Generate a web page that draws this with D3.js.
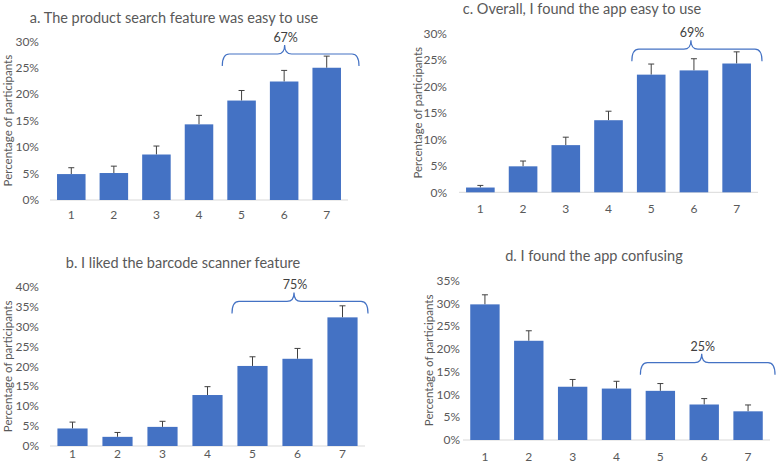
<!DOCTYPE html>
<html>
<head>
<meta charset="utf-8">
<script src="https://cdn.jsdelivr.net/npm/d3@7"></script>
<style>
  body { margin: 0; background: #fff; }
  svg { display: block; font-family: Lato, "Open Sans", sans-serif; }
  .tick-label { fill: #595959; font-size: 12px; }
  .title { fill: #595959; font-size: 14.5px; }
  .ylab { fill: #595959; font-size: 11.5px; }
  .brace-label { fill: #404040; font-size: 12.5px; }
</style>
</head>
<body>
<svg width="778" height="469"></svg>
<script>
// likert scale points
var categories = ['1', '2', '3', '4', '5', '6', '7'];

// percent of participants, and top of each error bar
var valuesA = [4.9, 5.1, 8.6, 14.3, 18.8, 22.4, 25.0];
var errTopA = [6.1, 6.4, 10.2, 16.0, 20.7, 24.5, 27.2];

var valuesB = [4.4, 2.3, 4.8, 12.8, 20.1, 21.9, 32.3];
var errTopB = [6.0, 3.4, 6.2, 14.9, 22.4, 24.5, 35.2];

var valuesC = [0.9, 4.9, 8.9, 13.6, 22.2, 23.0, 24.3];
var errTopC = [1.3, 5.9, 10.4, 15.3, 24.2, 25.2, 26.5];

var valuesD = [29.8, 21.8, 11.7, 11.3, 10.8, 7.8, 6.3];
var errTopD = [31.9, 24.0, 13.3, 12.9, 12.4, 9.1, 7.7];

var titles = [
  'a. The product search feature was easy to use',
  'b. I liked the barcode scanner feature',
  'c. Overall, I found the app easy to use',
  'd. I found the app confusing'
];
var braceLabels = ['67%', '75%', '69%', '25%'];
var yMaxes = [30, 40, 30, 35];

// layout of each panel (pixels)
var panels = [
  { vals: valuesA, errs: errTopA, x0: 50, x1: 348, y0: 200, yTop: 41.3,
    titleX: 174, titleY: 23, xLabY: 219, yLabX: 8, tickX: 39, braceAt: 27.6, braceR: 11 },
  { vals: valuesB, errs: errTopB, x0: 50, x1: 365, y0: 446, yTop: 286.7,
    titleX: 183, titleY: 268, xLabY: 458, yLabX: 8, tickX: 39, braceAt: 36.3, braceR: 3 },
  { vals: valuesC, errs: errTopC, x0: 459, x1: 758, y0: 192.3, yTop: 33.3,
    titleX: 582, titleY: 14, xLabY: 213, yLabX: 418, tickX: 447, braceAt: 27.0, braceR: 4 },
  { vals: valuesD, errs: errTopD, x0: 463, x1: 770, y0: 440, yTop: 280.7,
    titleX: 594, titleY: 261, xLabY: 461, yLabX: 429, tickX: 460, braceAt: 17.0, braceR: 5 }
];

var svg = d3.select('svg');

panels.forEach(function (p, i) {
  var g = svg.append('g');

  var x = d3.scaleBand()
    .domain(categories)
    .range([p.x0, p.x1])
    .paddingInner(0.33)
    .paddingOuter(0.165);

  var y = d3.scaleLinear()
    .domain([0, yMaxes[i]])
    .range([p.y0, p.yTop]);

  // y tick labels
  g.selectAll('.ytick')
    .data(d3.range(0, yMaxes[i] + 1, 5))
    .enter().append('text')
    .attr('class', 'tick-label')
    .attr('x', p.tickX)
    .attr('y', function (d) { return y(d); })
    .attr('dy', '0.35em')
    .attr('text-anchor', 'end')
    .text(function (d) { return d + '%'; });

  // baseline
  g.append('line')
    .attr('x1', p.x0).attr('x2', p.x1)
    .attr('y1', y(0)).attr('y2', y(0))
    .attr('stroke', '#d9d9d9')
    .attr('stroke-width', 1);

  // error bars (upper only)
  var eb = g.selectAll('.err')
    .data(categories)
    .enter().append('g');
  eb.append('line')
    .attr('x1', function (d) { return x(d) + x.bandwidth() / 2; })
    .attr('x2', function (d) { return x(d) + x.bandwidth() / 2; })
    .attr('y1', function (d, j) { return y(p.vals[j]); })
    .attr('y2', function (d, j) { return y(p.errs[j]); })
    .attr('stroke', '#404040')
    .attr('stroke-width', 1);
  eb.append('line')
    .attr('x1', function (d) { return x(d) + x.bandwidth() / 2 - 3; })
    .attr('x2', function (d) { return x(d) + x.bandwidth() / 2 + 3; })
    .attr('y1', function (d, j) { return y(p.errs[j]); })
    .attr('y2', function (d, j) { return y(p.errs[j]); })
    .attr('stroke', '#404040')
    .attr('stroke-width', 1);

  // bars
  g.selectAll('.bar')
    .data(categories)
    .enter().append('rect')
    .attr('x', function (d) { return x(d); })
    .attr('width', x.bandwidth())
    .attr('y', function (d, j) { return y(p.vals[j]); })
    .attr('height', function (d, j) { return y(0) - y(p.vals[j]); })
    .attr('fill', '#4472c4');

  // x labels
  g.selectAll('.xtick')
    .data(categories)
    .enter().append('text')
    .attr('class', 'tick-label')
    .attr('x', function (d) { return x(d) + x.bandwidth() / 2; })
    .attr('y', p.xLabY)
    .attr('text-anchor', 'middle')
    .text(function (d) { return d; });

  // title
  g.append('text')
    .attr('class', 'title')
    .attr('x', p.titleX)
    .attr('y', p.titleY)
    .attr('text-anchor', 'middle')
    .text(titles[i]);

  // y axis title
  g.append('text')
    .attr('class', 'ylab')
    .attr('transform', 'translate(' + p.yLabX + ',' + ((y(0) + y(yMaxes[i])) / 2) + ') rotate(-90)')
    .attr('dy', '0.35em')
    .attr('text-anchor', 'middle')
    .text('Percentage of participants');

  // curly brace over the top three ratings
  var bx1 = x('5') - x.step() * 0.165 + 2,
    bx2 = p.x1 + p.braceR,
    by = y(p.braceAt),
    bm = (bx1 + bx2) / 2 - 6,
    r = 7, drop = 12, peak = 9;
  var path = 'M' + bx1 + ',' + (by + drop) +
    ' Q' + bx1 + ',' + by + ' ' + (bx1 + r) + ',' + by +
    ' L' + (bm - r) + ',' + by +
    ' Q' + bm + ',' + by + ' ' + bm + ',' + (by - peak) +
    ' Q' + bm + ',' + by + ' ' + (bm + r) + ',' + by +
    ' L' + (bx2 - r) + ',' + by +
    ' Q' + bx2 + ',' + by + ' ' + bx2 + ',' + (by + drop);
  g.append('path')
    .attr('d', path)
    .attr('fill', 'none')
    .attr('stroke', '#4472c4')
    .attr('stroke-width', 1.2);

  g.append('text')
    .attr('class', 'brace-label')
    .attr('x', bm + 1)
    .attr('y', by - peak - 3)
    .attr('text-anchor', 'middle')
    .text(braceLabels[i]);
});
</script>
</body>
</html>
